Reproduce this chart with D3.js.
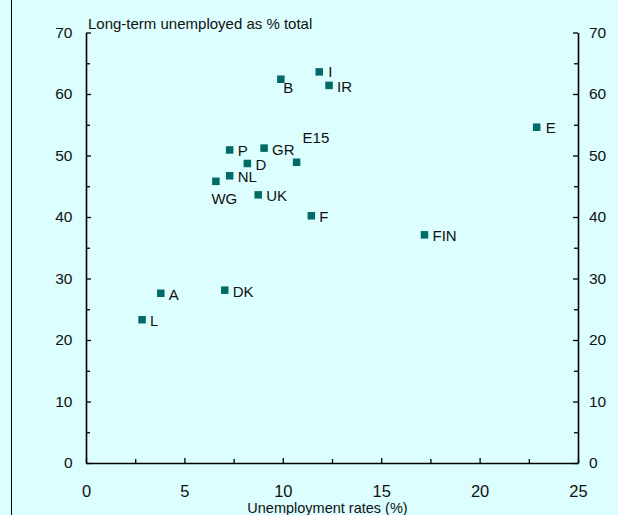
<!DOCTYPE html>
<html>
<head>
<meta charset="utf-8">
<script src="https://cdn.jsdelivr.net/npm/d3@7"></script>
<style>
  html, body { margin: 0; padding: 0; background: #dcfefe; }
  svg { display: block; }
  text { font-family: "Liberation Sans", Arial, sans-serif; fill: #111; }
</style>
</head>
<body>
<script>
// ---- data ----
const countries = ["L", "A", "DK", "WG", "NL", "P", "D", "GR", "E15", "UK", "F", "B", "I", "IR", "E", "FIN"];
const unemploymentRate = [2.85, 3.8, 7.05, 6.6, 7.3, 7.3, 8.2, 9.05, 10.7, 8.75, 11.45, 9.9, 11.85, 12.35, 22.9, 17.2];
const longTermShare = [23.3, 27.6, 28.1, 45.8, 46.7, 50.9, 48.7, 51.2, 48.9, 43.6, 40.2, 62.4, 63.6, 61.4, 54.6, 37.1];
const xTicks = [0, 5, 10, 15, 20, 25];
const yTicks = [0, 10, 20, 30, 40, 50, 60, 70];
const chartTitle = "Long-term unemployed as % total";
const xTitle = "Unemployment rates (%)";

// label placement tweaks (layout only)
const labelOffset = { B: [2.5, 8], WG: [-4.5, 17], E15: [6, -25], E: [9, 0], I: [9, 0] };

const W = 618, H = 515;
const svg = d3.select("body").append("svg").attr("width", W).attr("height", H);
svg.append("rect").attr("width", W).attr("height", H).attr("fill", "#dcfefe");
svg.append("line").attr("x1", 11.5).attr("x2", 11.5).attr("y1", 0).attr("y2", H)
  .attr("stroke", "#000").attr("stroke-width", 1);

const x = d3.scaleLinear().domain([0, 25]).range([86, 578]);
const y = d3.scaleLinear().domain([0, 70]).range([463, 32.5]);

const axisColor = "#000";
function styleAxis(g) {
  g.selectAll("path.domain").attr("stroke", axisColor).attr("stroke-width", 1.6);
  g.selectAll(".tick line").attr("stroke", axisColor).attr("stroke-width", 1.3);
}

// minor ticks
const yMinor = d3.range(5, 70, 10);
const xMinor = d3.range(2.5, 25, 5);

// left axis
const gl = svg.append("g").attr("transform", `translate(${x(0)},0)`)
  .call(d3.axisLeft(y).tickValues(yTicks).tickSize(-5).tickSizeOuter(0).tickPadding(13.5))
  .call(styleAxis);
gl.selectAll(".tick text").attr("font-size", 15.5).attr("fill", "#111");
svg.append("g").attr("transform", `translate(${x(0)},0)`)
  .call(d3.axisLeft(y).tickValues(yMinor).tickSize(-4).tickSizeOuter(0).tickFormat(""))
  .call(styleAxis).select("path.domain").remove();

// right axis
const gr = svg.append("g").attr("transform", `translate(${x(25)},0)`)
  .call(d3.axisRight(y).tickValues(yTicks).tickSize(-5).tickSizeOuter(0).tickPadding(11))
  .call(styleAxis);
gr.selectAll(".tick text").attr("font-size", 15.5).attr("fill", "#111");
svg.append("g").attr("transform", `translate(${x(25)},0)`)
  .call(d3.axisRight(y).tickValues(yMinor).tickSize(-4).tickSizeOuter(0).tickFormat(""))
  .call(styleAxis).select("path.domain").remove();

// bottom axis
const gb = svg.append("g").attr("transform", `translate(0,${y(0)})`)
  .call(d3.axisBottom(x).tickValues(xTicks).tickSize(-5).tickSizeOuter(0).tickPadding(22))
  .call(styleAxis);
gb.selectAll(".tick text").attr("font-size", 16.5).attr("fill", "#111");
svg.append("g").attr("transform", `translate(0,${y(0)})`)
  .call(d3.axisBottom(x).tickValues(xMinor).tickSize(-4).tickSizeOuter(0).tickFormat(""))
  .call(styleAxis).select("path.domain").remove();

// titles
svg.append("text").attr("x", 88).attr("y", 29).attr("font-size", 15).text(chartTitle);
svg.append("text").attr("x", 327.5).attr("y", 513).attr("text-anchor", "middle")
  .attr("font-size", 14.5).text(xTitle);

// points
const pts = countries.map((c, i) => ({ c, x: unemploymentRate[i], y: longTermShare[i] }));
const sq = 7.5;
svg.append("g").selectAll("rect").data(pts).join("rect")
  .attr("x", d => x(d.x) - sq / 2).attr("y", d => y(d.y) - sq / 2)
  .attr("width", sq).attr("height", sq).attr("fill", "#006a66");

svg.append("g").selectAll("text").data(pts).join("text")
  .attr("x", d => x(d.x) + (labelOffset[d.c] ? labelOffset[d.c][0] : 8))
  .attr("y", d => y(d.y) + (labelOffset[d.c] ? labelOffset[d.c][1] : 1))
  .attr("dy", "0.36em")
  .attr("font-size", 15)
  .text(d => d.c);
</script>
</body>
</html>
